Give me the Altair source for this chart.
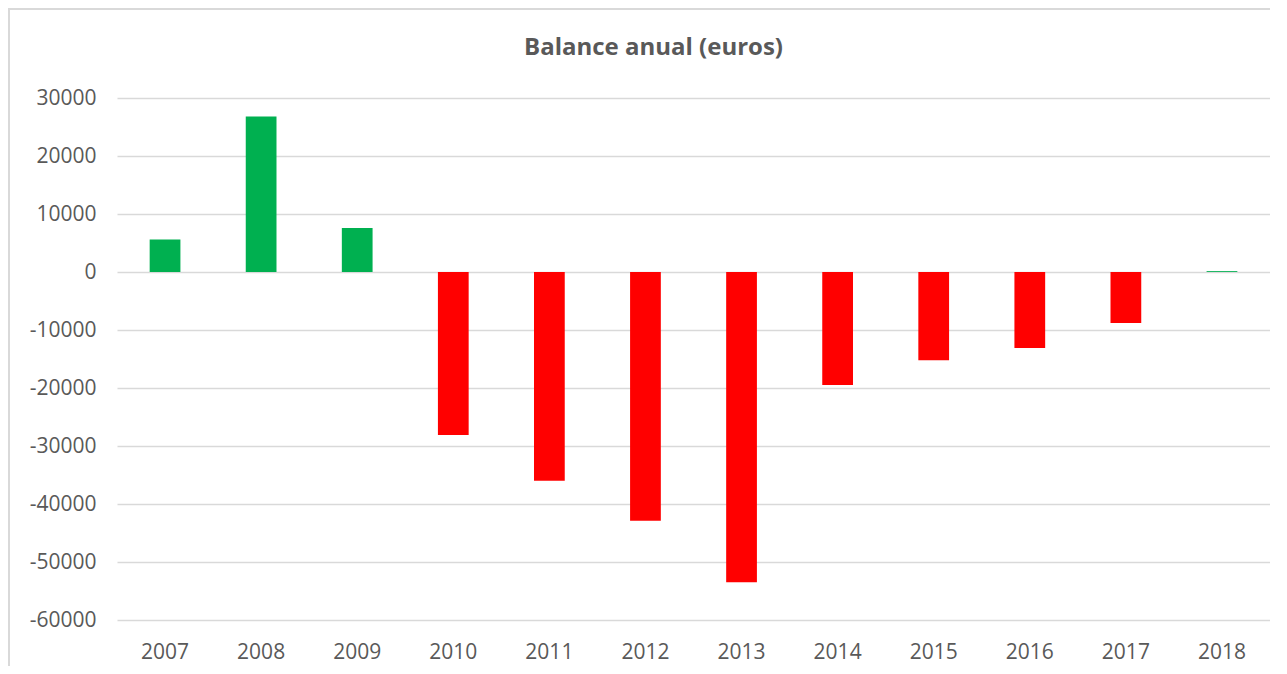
import altair as alt
import pandas as pd

years = ["2007", "2008", "2009", "2010", "2011", "2012", "2013", "2014", "2015", "2016", "2017", "2018"]
balance = [5600, 26800, 7600, -28100, -36000, -42900, -53500, -19500, -15200, -13100, -8800, 150]

df = pd.DataFrame({"year": years, "balance": balance})

W, H = 1153, 522

border = alt.Chart(pd.DataFrame({"k": [0]})).mark_rect(
    fill=None, stroke="#d9d9d9", strokeWidth=2
).encode(
    x=alt.value(-108), x2=alt.value(W + 200),
    y=alt.value(-89), y2=alt.value(H + 200),
)

bars = alt.Chart(df).mark_bar().encode(
    x=alt.X("year:N", sort=years, title=None,
            scale=alt.Scale(paddingInner=0.68, paddingOuter=0.34),
            axis=alt.Axis(labelAngle=0, domain=False, ticks=False, labelPadding=21,
                          labelFontSize=21, labelColor="#595959", labelFont="Open Sans")),
    y=alt.Y("balance:Q", title=None,
            scale=alt.Scale(domain=[-60000, 30000], nice=False),
            axis=alt.Axis(values=list(range(-60000, 30001, 10000)),
                          labelExpr="'' + datum.value",
                          domain=False, ticks=False, labelPadding=21,
                          labelFontSize=21, labelColor="#595959", labelFont="Open Sans",
                          gridColor="#d9d9d9", gridWidth=1.5)),
    color=alt.condition(alt.datum.balance > 0, alt.value("#00B050"), alt.value("#FF0000")),
)

chart = alt.layer(border, bars).properties(
    width=W, height=H,
    title=alt.TitleParams("Balance anual (euros)", font="Open Sans", fontSize=24,
                          fontWeight="bold", color="#595959", anchor="middle",
                          dx=-40, offset=-52),
    autosize=alt.AutoSizeParams(type="none"),
    padding={"left": 109, "top": 90, "right": 0, "bottom": 46},
).configure_view(stroke=None)

chart.save("out.html", embed_options={"renderer": "svg", "actions": False})
